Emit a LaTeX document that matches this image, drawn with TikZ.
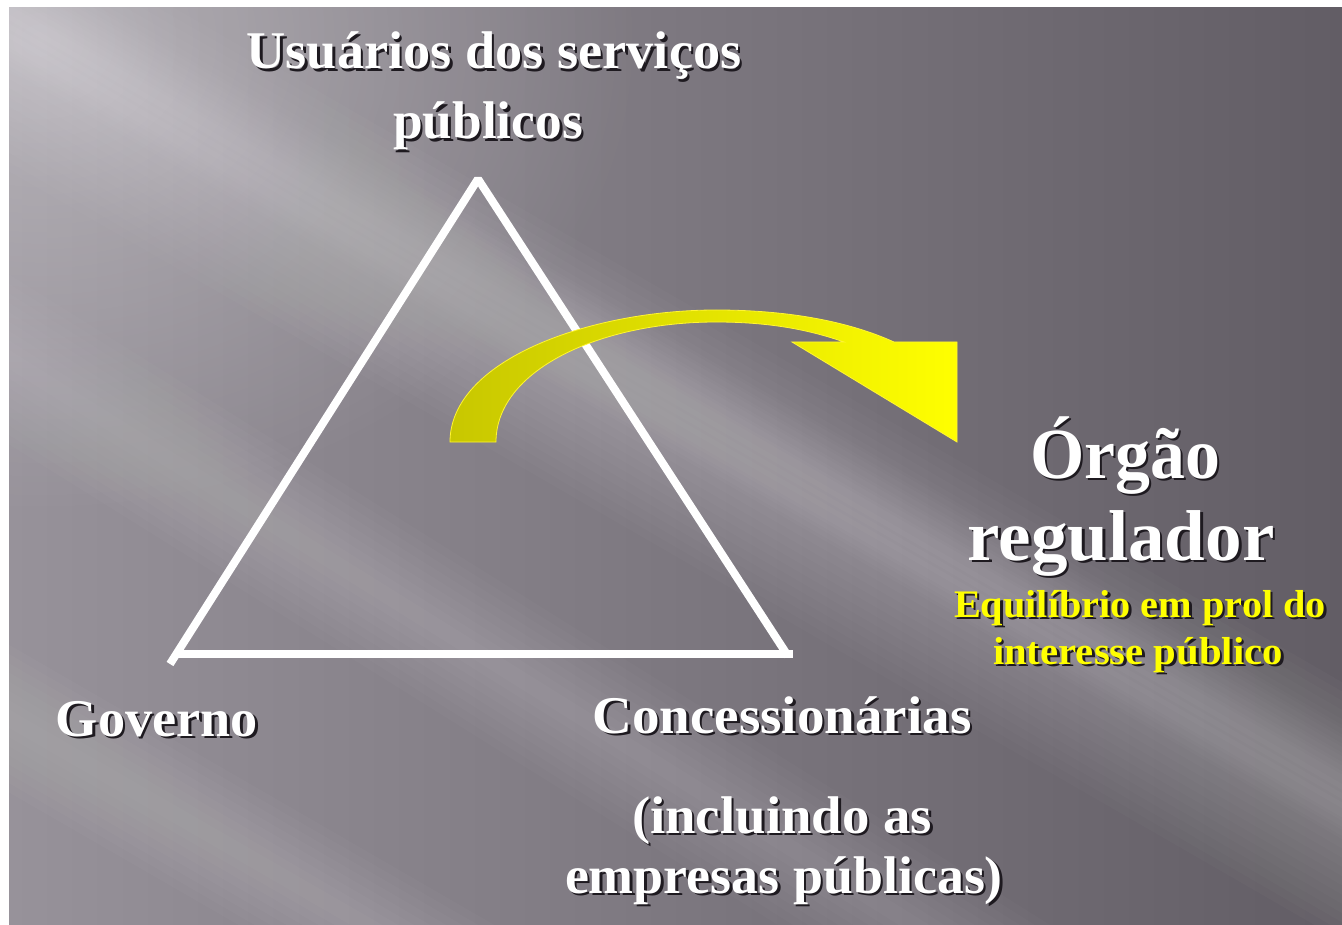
\documentclass[tikz,border=0pt]{standalone}
\usepackage{fontspec}
\setmainfont{Liberation Serif}
\usetikzlibrary{fadings}
\definecolor{bgL}{HTML}{97929A}
\definecolor{bgR}{HTML}{625D65}
\definecolor{shadowc}{HTML}{1E1A20}
\definecolor{arrowdark}{HTML}{C8C700}
\definecolor{arrowlight}{HTML}{FFFF00}
\definecolor{txtyellow}{HTML}{FFFF00}
\tikzfading[name=glow, inner color=transparent!0, outer color=transparent!100]
\newcommand{\xfit}[2]{\sbox0{#2}\pgfmathsetmacro\xfr{#1/\the\wd0}\scalebox{\xfr}[1]{\usebox0}}
\newcommand{\shd}[1]{\leavevmode\rlap{\kern2.5pt\raisebox{-2.5pt}{\color{shadowc}#1}}#1}
\begin{document}
\begin{tikzpicture}[x=1pt,y=-1pt,
  lbl/.style={anchor=base, inner sep=0pt, text=white, font=\fontsize{53}{60}\selectfont\bfseries},
  biglbl/.style={lbl, font=\fontsize{72}{80}\selectfont\bfseries},
  ylbl/.style={lbl, text=txtyellow, font=\fontsize{39}{44}\selectfont\bfseries},
  tri/.style={draw=white, line width=8pt, line join=bevel, line cap=butt},
  streak/.style={white, opacity=0.02}]
\useasboundingbox (0,0) rectangle (1342,925);
\fill[white] (0,0) rectangle (1342,925);
\begin{scope}
  \clip (9,8) rectangle (1342,925);
  \shade[left color=bgL, right color=bgR] (9,8) rectangle (1342,925);
  \fill[white, opacity=0.3, path fading=glow] (40,40) ellipse (600 and 480);
  \foreach \w in {8,16,...,112}
    \fill[streak, rotate around={-30:(560,360)}] (-600,360-\w) rectangle (1800,360+\w);
  \foreach \w in {8,16,...,72}
    \fill[streak, rotate around={-32:(330,560)}] (-600,560-\w) rectangle (1600,560+\w);
  \foreach \w in {8,16,...,64}
    \fill[streak, rotate around={-30:(150,800)}] (-600,800-\w) rectangle (1400,800+\w);
  \foreach \w in {8,16,...,48}
    \fill[streak, rotate around={-30:(250,150)}] (-600,150-\w) rectangle (1900,150+\w);
\end{scope}

% triangle
\coordinate (T) at (478,179);
\coordinate (BL) at (170,664);
\coordinate (BR) at (788,656);
\coordinate (BL2) at (178,654);
\coordinate (BR2) at (793,654);
\draw[tri] (BL) -- (T) -- (BR);
\draw[tri] (BL2) -- (BR2);

% yellow curved arrow
\shade[left color=arrowdark, right color=arrowlight, draw=yellow!80!white, line width=0.8pt]
  (450,442) .. controls (450,360) and (590,310) .. (716,310)
  .. controls (790,310) and (850,322) .. (894,342)
  -- (957,342) -- (957,442) -- (792,342) -- (844,342)
  .. controls (810,330) and (770,322) .. (716,322)
  .. controls (600,322) and (496,370) .. (496,442) -- cycle;

% labels
\node[lbl] (u1) at (494,69) {\shd{\xfit{495pt}{Usuários dos serviços}}};
\node[lbl] (u2) at (488,139) {\shd{\xfit{190pt}{públicos}}};
\node[lbl] (gov) at (157,736) {\shd{\xfit{202pt}{Governo}}};
\node[lbl] (con) at (782,733) {\shd{\xfit{379pt}{Concessionárias}}};
\node[lbl] (inc) at (782,833) {\shd{\xfit{300pt}{(incluindo as}}};
\node[lbl] (emp) at (784,893) {\shd{\xfit{438pt}{empresas públicas)}}};
\node[biglbl] (org) at (1125,478) {\shd{\xfit{190pt}{Órgão}}};
\node[biglbl] (reg) at (1121,560) {\shd{\xfit{307pt}{regulador}}};
\node[ylbl] (eq) at (1140,617) {\shd{\xfit{372pt}{Equilíbrio em prol do}}};
\node[ylbl] (int) at (1138,664) {\shd{\xfit{290pt}{interesse público}}};
\end{tikzpicture}
\end{document}
